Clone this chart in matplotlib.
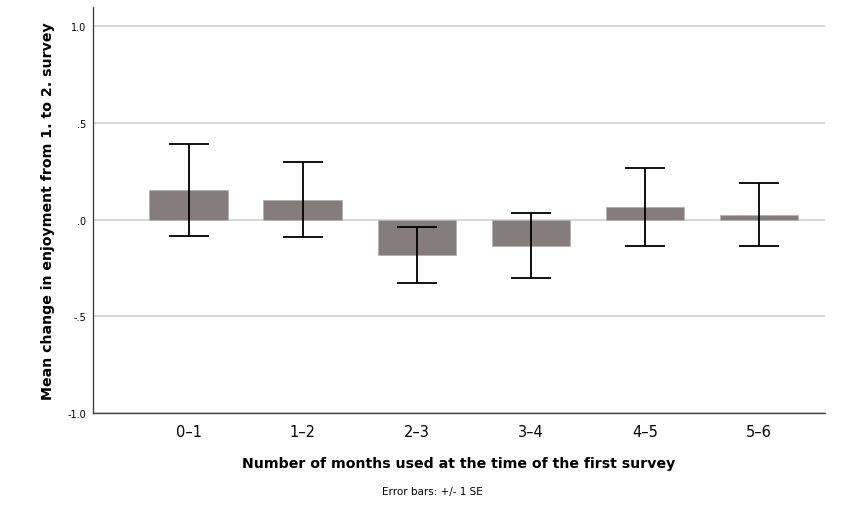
import numpy as np
import matplotlib.pyplot as plt

# data
groups = ['0–1', '1–2', '2–3', '3–4', '4–5', '5–6']
mean_change = [0.155, 0.105, -0.182, -0.133, 0.066, 0.026]
se = [0.238, 0.194, 0.144, 0.167, 0.200, 0.162]
yticks = [-1.0, -0.5, 0.0, 0.5, 1.0]
ytick_labels = ['-1.0', '-.5', '.0', '.5', '1.0']

fig = plt.figure(figsize=(8.64, 5.10), dpi=100)
ax = fig.add_axes([0.1076, 0.188, 0.8474, 0.796])

x = np.arange(len(groups))
ax.bar(x, mean_change, width=0.69, color='#857d7d', edgecolor='#b5b0b0',
       linewidth=0.6, zorder=2)
ax.errorbar(x, mean_change, yerr=se, fmt='none', ecolor='black',
            elinewidth=1.3, capsize=14.5, capthick=1.3, zorder=3)

ax.set_xlim(-0.84, 5.58)
ax.set_ylim(-1.0, 1.1)
ax.set_yticks(yticks)
ax.set_yticklabels(ytick_labels, fontsize=7)
ax.set_xticks(x)
ax.set_xticklabels(groups, fontsize=10.5)
ax.tick_params(axis='both', length=0)
ax.tick_params(axis='x', pad=8)
ax.tick_params(axis='y', pad=5)

ax.yaxis.grid(True, color='#d4d4d4', linewidth=1.3, zorder=0)
ax.set_axisbelow(True)
for side in ['top', 'right']:
    ax.spines[side].set_visible(False)
for side in ['left', 'bottom']:
    ax.spines[side].set_color('#444444')
    ax.spines[side].set_linewidth(1.0)

ax.set_ylabel('Mean change in enjoyment from 1. to 2. survey', fontsize=10.2,
              fontweight='bold', labelpad=9)
ax.set_xlabel('Number of months used at the time of the first survey',
              fontsize=10.2, fontweight='bold', labelpad=12)

fig.text(0.5, 0.035, 'Error bars: +/- 1 SE', fontsize=7.5, ha='center',
         va='center')

fig.savefig('out.png', dpi=100)
